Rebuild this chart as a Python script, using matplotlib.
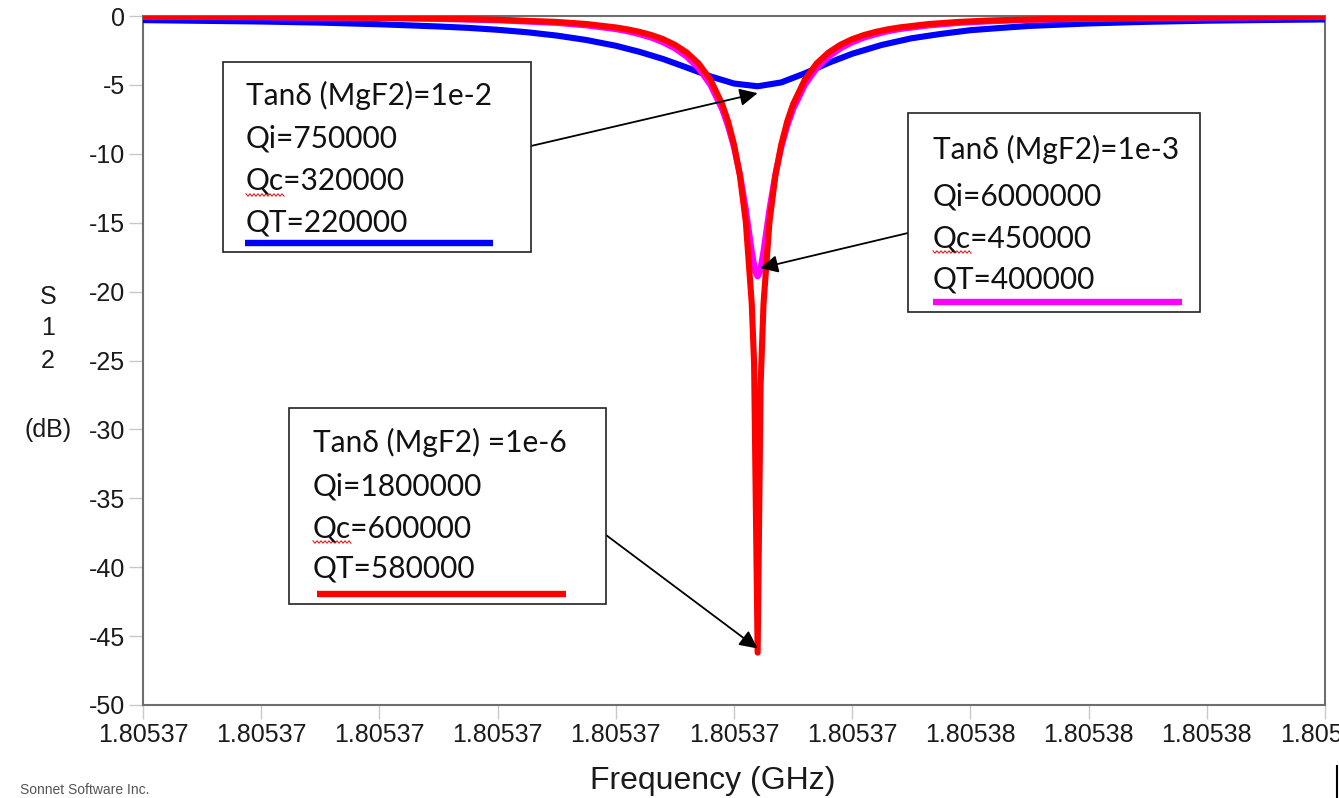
import numpy as np
import matplotlib
matplotlib.use('Agg')
import matplotlib.pyplot as plt
from matplotlib.patches import Rectangle
from matplotlib.lines import Line2D

W, H = 1339, 798

F_START = 1.8053685   # GHz at the left edge of the sweep
F_STEP = 1e-6         # GHz per kHz

# sweep points as kHz above F_START, S12 in dB
blue_khz = [0, 0.5, 1, 1.5, 2, 2.5, 2.75, 3, 3.25, 3.5, 3.75, 4, 4.2, 4.4, 4.6,
            4.8, 5.0, 5.2, 5.4, 5.6, 5.8, 6.0, 6.25, 6.5, 6.75, 7, 7.25, 7.5,
            8, 8.5, 9, 9.5, 10]
blue_db = [-0.30, -0.35, -0.40, -0.48, -0.60, -0.76, -0.86, -1.00, -1.18, -1.42,
           -1.74, -2.16, -2.60, -3.12, -3.74, -4.38, -4.90, -5.10, -4.82, -4.16,
           -3.40, -2.74, -2.10, -1.62, -1.30, -1.03, -0.87, -0.72, -0.54, -0.42,
           -0.34, -0.29, -0.25]

mag_khz = [0, 1, 2, 2.5, 3, 3.5, 3.75, 4, 4.1, 4.2, 4.3, 4.4, 4.5, 4.6, 4.7, 4.8,
           4.9, 4.95, 5.0, 5.05, 5.1, 5.15, 5.18, 5.2, 5.22, 5.25, 5.3, 5.35,
           5.4, 5.45, 5.5, 5.6, 5.7, 5.8, 5.9, 6.0, 6.1, 6.2, 6.3, 6.4, 6.65,
           6.9, 7.15, 7.4, 7.9, 8.5, 9, 10]
mag_db = [-0.06, -0.09, -0.15, -0.21, -0.31, -0.50, -0.68, -0.95, -1.11, -1.32,
          -1.57, -1.91, -2.35, -2.95, -3.79, -4.99, -6.77, -7.99, -9.52, -11.49,
          -14.03, -17.06, -18.55, -18.90, -18.55, -17.06, -14.03, -11.49, -9.52,
          -7.99, -6.77, -4.99, -3.79, -2.95, -2.35, -1.91, -1.57, -1.32, -1.11,
          -0.95, -0.68, -0.50, -0.39, -0.31, -0.21, -0.15, -0.11, -0.07]

red_khz = [0, 1, 2, 2.5, 3, 3.5, 3.75, 4, 4.1, 4.2, 4.3, 4.4, 4.5, 4.6, 4.7, 4.8,
           4.9, 4.95, 5.0, 5.05, 5.1, 5.15, 5.17, 5.2, 5.225, 5.25, 5.3, 5.35,
           5.4, 5.45, 5.5, 5.6, 5.7, 5.8, 5.9, 6.0, 6.1, 6.2, 6.3, 6.4, 6.65,
           6.9, 7.15, 7.4, 7.9, 8.5, 9, 10]
red_db = [-0.05, -0.07, -0.13, -0.18, -0.27, -0.43, -0.58, -0.83, -0.97, -1.15,
          -1.38, -1.68, -2.09, -2.65, -3.44, -4.61, -6.40, -7.66, -9.33, -11.59,
          -14.95, -20.85, -25.20, -46.20, -26.80, -20.85, -14.95, -11.59, -9.33,
          -7.66, -6.40, -4.61, -3.44, -2.65, -2.09, -1.68, -1.38, -1.15, -0.97,
          -0.83, -0.58, -0.43, -0.33, -0.27, -0.17, -0.12, -0.09, -0.06]

x_ticks_khz = list(range(11))
x_tick_labels = ['1.80537'] * 7 + ['1.80538'] * 4
y_ticks = [0, -5, -10, -15, -20, -25, -30, -35, -40, -45, -50]
y_tick_labels = ['0', '-5', '-10', '-15', '-20', '-25', '-30', '-35', '-40', '-45', '-50']

box_texts = [
    ['Tan\u03b4 (MgF2)=1e-2', 'Qi=750000', 'Qc=320000', 'QT=220000'],
    ['Tan\u03b4 (MgF2)=1e-3', 'Qi=6000000', 'Qc=450000', 'QT=400000'],
    ['Tan\u03b4 (MgF2) =1e-6', 'Qi=1800000', 'Qc=600000', 'QT=580000'],
]
curve_colors = ['#0000ff', '#ff00ff', '#ff0000']


def fx(x):
    return x / W


def fy(y):
    return 1 - y / H


fig = plt.figure(figsize=(W / 100, H / 100), dpi=100)
ax = fig.add_axes([fx(143), fy(705), 1182 / W, 689 / H])

curves = [(blue_khz, blue_db), (mag_khz, mag_db), (red_khz, red_db)]
for (khz, db), col in zip(curves, curve_colors):
    f = F_START + np.array(khz) * F_STEP
    ax.plot(f, db, color=col, lw=4.4, solid_joinstyle='round', zorder=3)

ax.set_xlim(F_START, F_START + 10 * F_STEP)
ax.set_ylim(-50, 0)
ax.set_xticks([F_START + k * F_STEP for k in x_ticks_khz])
ax.set_xticklabels(x_tick_labels)
ax.set_yticks(y_ticks)
ax.set_yticklabels(y_tick_labels)
for lab in ax.get_xticklabels() + ax.get_yticklabels():
    lab.set_family('Liberation Sans')
ax.tick_params(direction='out', length=10, width=1, color='#c8c8c8',
               labelsize=18, pad=3, labelcolor='#1a1a1a')
for sp in ax.spines.values():
    sp.set_color('#6e6e6e')
    sp.set_linewidth(1.5)

# axis titles
lab_kw = dict(family='Liberation Sans', fontsize=18, color='#1a1a1a',
              ha='center', va='center')
for s, y in zip(['S', '1', '2', '(dB)'], [297, 328, 361, 430]):
    fig.text(fx(48), fy(y), s, **lab_kw)
fig.text(fx(713), fy(781), 'Frequency (GHz)', family='Liberation Sans',
         fontsize=23, color='#1a1a1a', ha='center', va='center')
fig.text(fx(20), fy(790), 'Sonnet Software Inc.', family='Liberation Sans',
         fontsize=10, color='#555555', va='center')
fig.add_artist(Line2D([fx(1337), fx(1337)], [fy(766), fy(797)],
                      transform=fig.transFigure, color='black', lw=1.5))

# callout boxes: left, top, right, bottom, text x, baselines, bar (x0, x1, y)
boxes = [
    (223, 62, 531, 252, 246, [105, 148, 190, 232], (245, 493, 243)),
    (908, 113, 1200, 312, 933, [159, 205, 247, 289], (933, 1182, 302)),
    (289, 408, 606, 604, 313, [452, 495, 537, 577], (317, 566, 594)),
]
txt_kw = dict(family=['Lato', 'DejaVu Sans'], fontsize=21.5, color='#111111',
              ha='left', va='baseline')
renderer = fig.canvas.get_renderer()

for (l, t, r, b, tx, bls, bar), lines, col in zip(boxes, box_texts, curve_colors):
    fig.add_artist(Rectangle((fx(l), fy(b)), (r - l) / W, (b - t) / H,
                             transform=fig.transFigure, facecolor='white',
                             edgecolor='#222222', lw=1.2, zorder=5))
    for s, bl in zip(lines, bls):
        fig.text(fx(tx), fy(bl), s, zorder=6, **txt_kw)
    fig.add_artist(Line2D([fx(bar[0]), fx(bar[1])], [fy(bar[2]), fy(bar[2])],
                          transform=fig.transFigure, color=col, lw=4.6,
                          solid_capstyle='butt', zorder=6))
    # spell-check squiggle under "Qc"
    tmp = fig.text(0, 0, 'Qc', **txt_kw)
    wq = tmp.get_window_extent(renderer).width
    tmp.remove()
    sx = np.arange(tx, tx + wq, 2.0)
    sy = bls[2] + 5 + np.where(np.arange(len(sx)) % 2 == 0, -1.2, 1.2)
    fig.add_artist(Line2D(fx(sx), fy(sy), transform=fig.transFigure,
                          color='#e02020', lw=0.8, zorder=6))

# arrows from each box to the dip it describes
tails = [(531, 146), (908, 233), (606, 535)]
tip_shift = [(0.0, -0.5), (0.02, 0.6), (0.0, 0.3)]
for (khz, db), (px, py), (dk, dd) in zip(curves, tails, tip_shift):
    i = int(np.argmin(db))
    tip = (F_START + (khz[i] + dk) * F_STEP, db[i] + dd)
    ax.annotate('', xy=tip, xycoords='data', xytext=(fx(px), fy(py)),
                textcoords='figure fraction', annotation_clip=False,
                arrowprops=dict(arrowstyle='-|>,head_length=0.45,head_width=0.22',
                                color='black', lw=1.3, mutation_scale=24,
                                shrinkA=0, shrinkB=0), zorder=7)

fig.savefig('out.png', dpi=100)
